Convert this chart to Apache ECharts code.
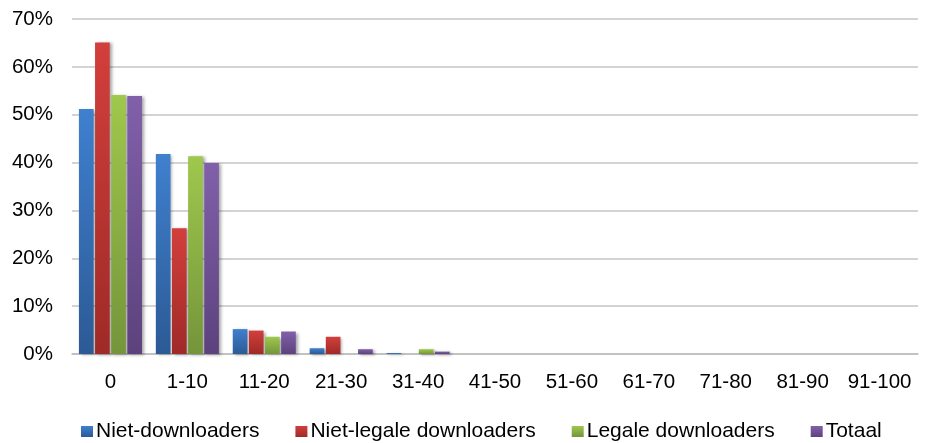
<!DOCTYPE html>
<html>
<head>
<meta charset="utf-8">
<script src="https://cdn.jsdelivr.net/npm/echarts@6/dist/echarts.min.js"></script>
<style>
  html, body { margin: 0; padding: 0; background: #fff; }
  #chart { width: 925px; height: 443px; }
</style>
</head>
<body>
<div id="chart"></div>
<script>
const categories = ["0", "1-10", "11-20", "21-30", "31-40", "41-50", "51-60", "61-70", "71-80", "81-90", "91-100"];
const nietDownloaders = [51.2, 41.8, 5.2, 1.2, 0.2, 0, 0, 0, 0, 0, 0];
const nietLegale = [65.1, 26.3, 4.9, 3.6, 0, 0, 0, 0, 0, 0, 0];
const legale = [54.1, 41.3, 3.6, 0, 1.0, 0, 0, 0, 0, 0, 0];
const totaal = [53.9, 39.9, 4.7, 1.0, 0.5, 0, 0, 0, 0, 0, 0];

function grad(top, bottom) {
    return new echarts.graphic.LinearGradient(0, 0, 0, 1, [
        { offset: 0, color: top },
        { offset: 1, color: bottom }
    ]);
}

function bar(name, data, top, bottom, legendColor) {
    return {
        name: name,
        type: 'bar',
        data: data,
        barGap: '10%',
        barCategoryGap: '18%',
        color: legendColor,
        itemStyle: {
            color: grad(top, bottom),
            shadowBlur: 3,
            shadowColor: 'rgba(0,0,0,0.35)',
            shadowOffsetX: 2,
            shadowOffsetY: 1
        }
    };
}

const myChart = echarts.init(document.getElementById('chart'));
const option = {
    animation: false,
    textStyle: { fontFamily: 'Liberation Sans, Arial, sans-serif' },
    grid: { left: 72, right: 7, top: 19, bottom: 89, containLabel: false },
    legend: {
        top: 416,
        left: 76,
        itemWidth: 12,
        itemHeight: 11,
        itemGap: 36,
        icon: 'rect',
        textStyle: { fontSize: 21, color: '#000', padding: [0, 0, 0, -2] }
    },
    xAxis: {
        type: 'category',
        data: categories,
        axisTick: { show: false },
        axisLine: { show: true, lineStyle: { color: '#bdbdbd', width: 1.5 } },
        axisLabel: { interval: 0, fontSize: 20.5, color: '#000', margin: 18 }
    },
    yAxis: {
        type: 'value',
        min: 0,
        max: 70,
        interval: 10,
        axisLine: { show: false },
        axisTick: { show: false },
        axisLabel: { formatter: '{value}%', fontSize: 20.5, color: '#000', margin: 19 },
        splitLine: { lineStyle: { color: '#c4c4c4', width: 1.5 } }
    },
    series: [
        bar('Niet-downloaders', nietDownloaders, '#3f80cf', '#2c5a95', '#3b74bd'),
        bar('Niet-legale downloaders', nietLegale, '#d23f3c', '#9f2a27', '#be3a36'),
        bar('Legale downloaders', legale, '#9fc84d', '#74953a', '#8db043'),
        bar('Totaal', totaal, '#8160aa', '#5c427d', '#6f4f96')
    ]
};
myChart.setOption(option);
</script>
</body>
</html>
